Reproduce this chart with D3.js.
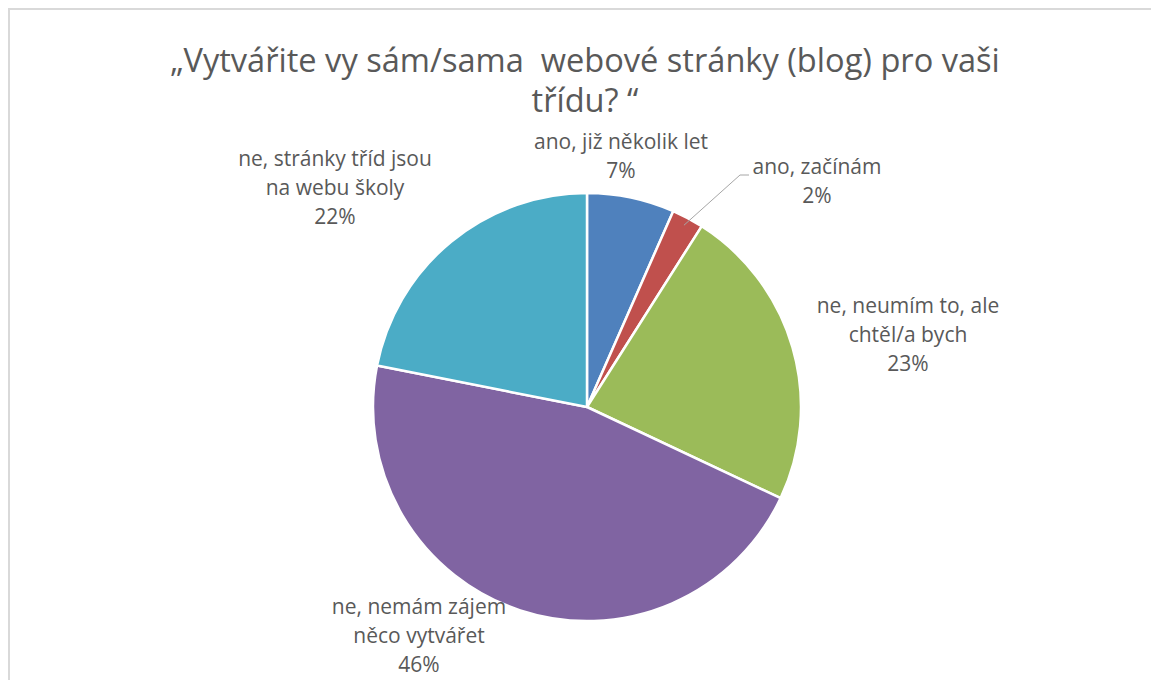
<!DOCTYPE html>
<html lang="cs">
<head>
<meta charset="utf-8">
<script src="https://d3js.org/d3.v7.min.js"></script>
<style>
  body { margin: 0; background: #fff; }
  text { font-family: "Open Sans", Lato, sans-serif; fill: #595959; }
</style>
</head>
<body>
<script>
// data
const categories = [
  "ano, již několik let",
  "ano, začínám",
  "ne, neumím to, ale chtěl/a bych",
  "ne, nemám zájem něco vytvářet",
  "ne, stránky tříd jsou na webu školy"
];
const values = [6.6, 2.4, 23.0, 46.1, 21.9];
const colors = ["#4f81bd", "#c0504d", "#9bbb59", "#8064a2", "#4bacc6"];
// label text broken into lines as in the chart
const labelLines = [
  ["ano, již několik let"],
  ["ano, začínám"],
  ["ne, neumím to, ale", "chtěl/a bych"],
  ["ne, nemám zájem", "něco vytvářet"],
  ["ne, stránky tříd jsou", "na webu školy"]
];
const titleLines = ["„Vytvářite vy sám/sama  webové stránky (blog) pro vaši", "třídu? “"];

const width = 1151, height = 680;
const cx = 587, cy = 407, radius = 214;

const svg = d3.select("body").append("svg")
  .attr("width", width)
  .attr("height", height);

// chart frame (cut off by the screenshot on the right and bottom)
svg.append("rect")
  .attr("x", 9).attr("y", 9)
  .attr("width", width + 20).attr("height", height + 20)
  .attr("fill", "#fff")
  .attr("stroke", "#d9d9d9")
  .attr("stroke-width", 2);

// title, two lines
svg.selectAll("text.title")
  .data(titleLines)
  .join("text")
  .attr("class", "title")
  .attr("text-anchor", "middle")
  .attr("x", 585)
  .attr("y", (d, i) => 72 + i * 40)
  .style("font-size", "32.6px")
  .style("white-space", "pre")
  .text(d => d);

const pie = d3.pie().sort(null).value(d => d);
const arcs = pie(values);
const arc = d3.arc().innerRadius(0).outerRadius(radius);

const g = svg.append("g").attr("transform", `translate(${cx},${cy})`);

g.selectAll("path")
  .data(arcs)
  .join("path")
  .attr("d", arc)
  .attr("fill", (d, i) => colors[i])
  .attr("stroke", "#fff")
  .attr("stroke-width", 2.5)
  .attr("stroke-linejoin", "round");

// label placement (centre of first line, relative to the pie centre)
const labelPos = [
  [34, -264],
  [230, -239],
  [321, -100],
  [-168, 201],
  [-252, -247]
];
const lineH = 29;

arcs.forEach((d, i) => {
  const [lx, ly] = labelPos[i];
  const t = g.append("text")
    .attr("text-anchor", "middle")
    .attr("dominant-baseline", "middle")
    .style("font-size", "21px");
  const lines = labelLines[i].concat([Math.round(values[i]) + "%"]);
  lines.forEach((s, k) => {
    t.append("tspan").attr("x", lx).attr("y", ly + k * lineH).text(s);
  });
});

// leader line for the small slice
const small = arcs[1];
const mid = (small.startAngle + small.endAngle) / 2;
const p0 = [Math.sin(mid) * (radius - 8), -Math.cos(mid) * (radius - 8)];
g.append("polyline")
  .attr("points", [p0, [153, -232], [162, -232]].map(p => p.join(",")).join(" "))
  .attr("fill", "none")
  .attr("stroke", "#a6a6a6")
  .attr("stroke-width", 1);
</script>
</body>
</html>
